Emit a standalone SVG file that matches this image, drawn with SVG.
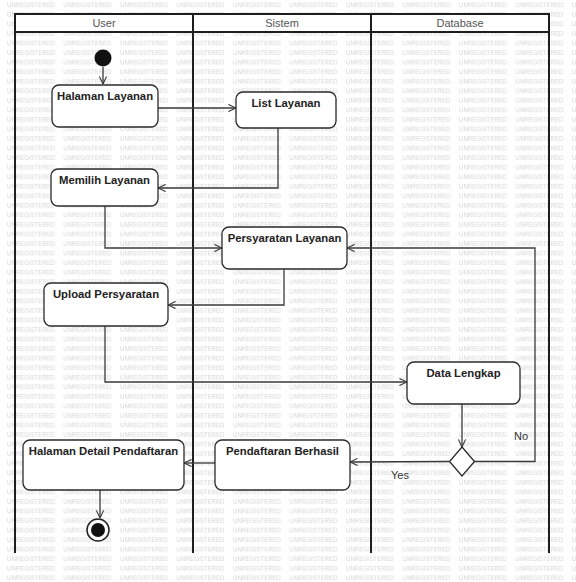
<svg xmlns="http://www.w3.org/2000/svg" width="576" height="582" viewBox="0 0 576 582">
<style>
.wm{font-family:"Liberation Sans",Arial,sans-serif;font-size:6.5px;fill:#d5d5d5}
.hdr{font-family:"Liberation Sans",Arial,sans-serif;font-size:11px;fill:#555;text-anchor:middle}
.lane{stroke:#1e1e1e;stroke-width:2;fill:none}
.box rect{fill:#fff;stroke:#2a2a2a;stroke-width:1.3}
.box text{font-family:"Liberation Sans",Arial,sans-serif;font-size:11.3px;font-weight:bold;fill:#222;text-anchor:middle}
.conn path{fill:none;stroke:#3a3a3a;stroke-width:1.3;marker-end:url(#arr)}
.lbl{font-family:"Liberation Sans",Arial,sans-serif;font-size:11px;fill:#333}
</style>
<defs>
<pattern id="wmp" patternUnits="userSpaceOnUse" x="7" y="0.5" width="56.5" height="9.55">
<text class="wm" x="0" y="6.3" textLength="48" lengthAdjust="spacingAndGlyphs">UNREGISTERED</text>
</pattern>
<marker id="arr" viewBox="0 0 10 10" refX="9.5" refY="5" markerWidth="8" markerHeight="8" markerUnits="userSpaceOnUse" orient="auto">
<path d="M0,0.5 L9.5,5 L0,9.5" fill="none" stroke="#3a3a3a" stroke-width="1.4"/>
</marker>
</defs>
<rect x="0" y="0" width="576" height="582" fill="#fff"/>
<rect x="0" y="0" width="576" height="582" fill="url(#wmp)"/>
<g id="swimlanes">
<rect x="15" y="14" width="534" height="18" fill="#fff" stroke="#1e1e1e" stroke-width="2"/>
<line class="lane" x1="15" y1="14" x2="15" y2="553"/>
<line class="lane" x1="193" y1="14" x2="193" y2="553"/>
<line class="lane" x1="371" y1="14" x2="371" y2="553"/>
<line class="lane" x1="549" y1="14" x2="549" y2="553"/>
<text class="hdr" x="104" y="27">User</text>
<text class="hdr" x="282" y="27">Sistem</text>
<text class="hdr" x="460" y="27">Database</text>
</g>
<g id="connectors" class="conn">
<path d="M103,67 L103,84"/>
<path d="M158,108 L236,108"/>
<path d="M278,128 L278,188 L158,188"/>
<path d="M105,206 L105,248 L222,248"/>
<path d="M284,269 L284,305 L168,305"/>
<path d="M105,326 L105,382 L407,382"/>
<path d="M462,404 L462,447"/>
<path d="M474,461.5 L535,461.5 L535,248 L347,248"/>
<path d="M449,461.5 L350,462"/>
<path d="M215,463 L184,463"/>
<path d="M100,490 L100,518"/>
</g>
<g id="start"><circle cx="103" cy="58" r="8.5" fill="#111"/></g>
<g id="halaman-layanan" class="box"><rect x="52" y="85" width="106" height="42" rx="7"/><text x="105" y="100">Halaman Layanan</text></g>
<g id="list-layanan" class="box"><rect x="236" y="92" width="100" height="36" rx="7"/><text x="286" y="107">List Layanan</text></g>
<g id="memilih-layanan" class="box"><rect x="51" y="169" width="107" height="37" rx="7"/><text x="104.5" y="184">Memilih Layanan</text></g>
<g id="persyaratan-layanan" class="box"><rect x="222" y="227" width="125" height="42" rx="7"/><text x="284.5" y="242">Persyaratan Layanan</text></g>
<g id="upload-persyaratan" class="box"><rect x="44" y="283" width="124" height="43" rx="7"/><text x="106" y="298">Upload Persyaratan</text></g>
<g id="data-lengkap" class="box"><rect x="407" y="362" width="113" height="42" rx="7"/><text x="463.5" y="377">Data Lengkap</text></g>
<g id="decision"><path d="M462,447 L474.5,461.5 L462,476 L449.5,461.5 Z" fill="#fff" stroke="#2a2a2a" stroke-width="1.3"/></g>
<g id="pendaftaran-berhasil" class="box"><rect x="215" y="440" width="135" height="50" rx="7"/><text x="282.5" y="455">Pendaftaran Berhasil</text></g>
<g id="halaman-detail" class="box"><rect x="23" y="440" width="161" height="50" rx="7"/><text x="103.5" y="455">Halaman Detail Pendaftaran</text></g>
<g id="end"><circle cx="98" cy="530" r="11" fill="#fff" stroke="#222" stroke-width="1.5"/><circle cx="98" cy="530" r="7" fill="#111"/></g>
<g id="labels">
<text class="lbl" x="514" y="440">No</text>
<text class="lbl" x="391" y="479">Yes</text>
</g>
</svg>
